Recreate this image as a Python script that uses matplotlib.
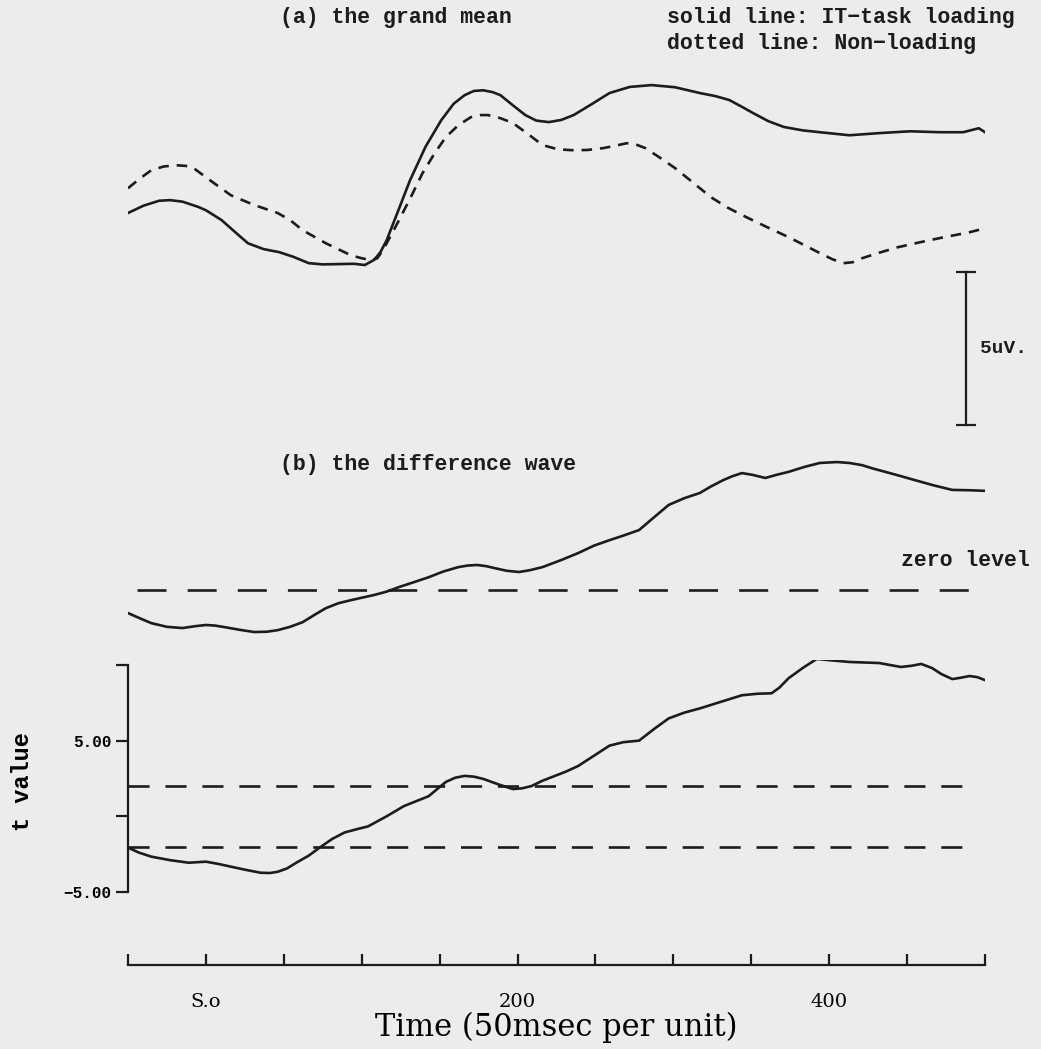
import matplotlib.pyplot as plt

# (a) grand mean, uV
solid_t = [-50, -40, -30, -23, -15, -5, 0, 10, 20, 27, 37, 47, 56, 66, 75, 85, 95, 102, 108,
           112, 116, 123, 131, 141, 151, 159, 166, 172, 178, 184, 189, 197, 205, 212, 220,
           228, 236, 248, 259, 272, 286, 301, 317, 327, 336, 344, 351, 361, 371, 383, 394,
           413, 432, 452, 471, 486, 496, 500]
solid_v = [-0.42, -0.18, -0.02, 0.0, -0.05, -0.22, -0.33, -0.65, -1.1, -1.41, -1.6, -1.70,
           -1.85, -2.06, -2.1, -2.09, -2.08, -2.12, -1.95, -1.7, -1.31, -0.4, 0.65, 1.75,
           2.61, 3.15, 3.43, 3.57, 3.59, 3.53, 3.43, 3.1, 2.78, 2.6, 2.55, 2.62, 2.78, 3.15,
           3.50, 3.70, 3.76, 3.69, 3.50, 3.40, 3.27, 3.05, 2.85, 2.58, 2.39, 2.28, 2.22,
           2.12, 2.19, 2.25, 2.22, 2.22, 2.35, 2.22]
dotted_t = [-50, -42, -35, -27, -19, -13, -8, 4, 16, 31, 46, 54, 62, 77, 93, 100, 106, 110,
            114, 124, 132, 139, 147, 154, 162, 170, 176, 181, 189, 197, 207, 216, 226, 236,
            245, 255, 263, 270, 276, 282, 291, 301, 312, 324, 335, 347, 360, 374, 384, 394,
            402, 409, 415, 421, 432, 444, 458, 471, 490, 500]
dotted_v = [0.39, 0.72, 0.98, 1.1, 1.14, 1.12, 1.05, 0.6, 0.16, -0.16, -0.42, -0.65, -0.98,
            -1.41, -1.80, -1.9, -1.96, -1.9, -1.6, -0.65, 0.15, 0.88, 1.55, 2.06, 2.45, 2.71,
            2.78, 2.78, 2.68, 2.52, 2.15, 1.80, 1.66, 1.63, 1.64, 1.70, 1.78, 1.86, 1.82,
            1.70, 1.40, 1.05, 0.6, 0.10, -0.25, -0.56, -0.88, -1.21, -1.47, -1.73, -1.93,
            -2.06, -2.03, -1.90, -1.72, -1.54, -1.38, -1.24, -1.05, -0.92]

# (b) difference wave, uV
diff_t = [-50, -42, -35, -25, -15, -7, 0, 6, 12, 22, 31, 39, 46, 54, 62, 70, 77, 85, 93, 100,
          108, 116, 124, 133, 143, 152, 162, 168, 174, 180, 185, 193, 201, 208, 216, 228, 239,
          249, 259, 268, 278, 287, 297, 307, 317, 324, 332, 338, 344, 351, 359, 366, 374, 384,
          394, 405, 413, 421, 428, 436, 446, 455, 467, 479, 490, 500]
diff_v = [-0.75, -0.93, -1.08, -1.2, -1.24, -1.18, -1.14, -1.16, -1.21, -1.3, -1.37, -1.36,
          -1.31, -1.2, -1.05, -0.8, -0.59, -0.43, -0.33, -0.25, -0.16, -0.05, 0.10, 0.25,
          0.42, 0.6, 0.75, 0.8, 0.82, 0.78, 0.72, 0.63, 0.59, 0.65, 0.75, 0.98, 1.21, 1.45,
          1.63, 1.78, 1.96, 2.35, 2.78, 3.0, 3.17, 3.38, 3.59, 3.72, 3.82, 3.76, 3.66, 3.76,
          3.86, 4.02, 4.15, 4.18, 4.15, 4.08, 3.97, 3.86, 3.72, 3.59, 3.42, 3.27, 3.26, 3.24]

# t values
tval_t = [-50, -43, -35, -23, -11, 0, 8, 16, 26, 35, 41, 46, 52, 58, 66, 73, 81, 89, 97, 104,
          116, 127, 135, 143, 149, 154, 160, 166, 172, 178, 188, 197, 203, 209, 216, 224, 231,
          239, 249, 259, 268, 278, 288, 297, 307, 317, 330, 344, 354, 363, 368, 374, 383, 392,
          402, 413, 432, 446, 453, 459, 466, 472, 479, 484, 490, 495, 500]
tval_v = [-2.07, -2.4, -2.67, -2.9, -3.07, -3.0, -3.15, -3.33, -3.55, -3.73, -3.75, -3.67,
          -3.45, -3.07, -2.6, -2.07, -1.5, -1.07, -0.85, -0.67, 0.0, 0.67, 1.0, 1.33, 1.85,
          2.27, 2.55, 2.67, 2.62, 2.47, 2.1, 1.8, 1.85, 2.0, 2.35, 2.67, 2.95, 3.33, 4.0,
          4.67, 4.9, 5.0, 5.8, 6.47, 6.85, 7.13, 7.55, 8.0, 8.1, 8.13, 8.5, 9.13, 9.8, 10.4,
          10.3, 10.2, 10.13, 9.87, 9.95, 10.07, 9.8, 9.4, 9.07, 9.15, 9.27, 9.2, 9.0]
t_crit = [2.0, -2.0]

xticks = list(range(-50, 501, 50))
xlabels = {0: 'S.o', 200: '200', 400: '400'}

W, H = 1041, 1049
ink = '#1c1c1c'
paper = '#ececec'
mono = 'Liberation Mono'
serif = 'DejaVu Serif'
lw = 1.9

fig = plt.figure(figsize=(W / 100, H / 100), dpi=100, facecolor=paper)


def add_ax(top, bottom):
    return fig.add_axes([128 / W, 1 - bottom / H, 857 / W, (bottom - top) / H])


def bare(ax):
    ax.set_facecolor('none')
    for s in ax.spines.values():
        s.set_visible(False)
    ax.set_xticks([])
    ax.set_yticks([])
    ax.set_xlim(-50, 500)


# panel (a)
ax_a = add_ax(60, 280)
bare(ax_a)
ax_a.set_ylim(-2.61, 4.58)
ax_a.plot(solid_t, solid_v, color=ink, lw=lw, solid_joinstyle='round')
ax_a.plot(dotted_t, dotted_v, color=ink, lw=lw, dashes=(4, 3))
# 5 uV scale bar
ax_a.plot([488, 488], [-2.35, -7.35], color=ink, lw=1.6, clip_on=False)
ax_a.plot([488, 488], [-2.35, -7.35], color=ink, ls='none', marker='_', ms=14,
          mew=1.6, clip_on=False)
ax_a.text(497, -4.85, '5uV.', fontsize=14, fontweight='bold', va='center', ha='left',
          color=ink, family=mono)

# panel (b)
ax_b = add_ax(440, 640)
bare(ax_b)
ax_b.set_ylim(-1.63, 4.90)
ax_b.plot(diff_t, diff_v, color=ink, lw=lw, solid_joinstyle='round')
ax_b.axhline(0, xmin=0.01, xmax=0.99, color=ink, lw=lw, dashes=(11, 8))

# t-value panel with time axis at the bottom
ax_t = add_ax(660, 965)
ax_t.set_facecolor('none')
ax_t.set_xlim(-50, 500)
ax_t.set_ylim(-9.83, 10.33)
for s in ['top', 'right']:
    ax_t.spines[s].set_visible(False)
ax_t.spines['left'].set_bounds(-5, 10)
for s in ['left', 'bottom']:
    ax_t.spines[s].set_color(ink)
    ax_t.spines[s].set_linewidth(1.6)
ax_t.set_yticks([-5, 0, 5, 10])
ax_t.set_yticklabels(['\u22125.00', '', '5.00', ''], fontsize=11.5, fontweight='bold',
                     family=mono)
ax_t.tick_params(axis='y', direction='out', length=9, width=1.6, color=ink, pad=3)
ax_t.set_xticks(xticks)
ax_t.set_xticklabels([xlabels.get(v, '') for v in xticks], fontsize=14, family=serif)
ax_t.tick_params(axis='x', direction='in', length=8, width=1.6, color=ink, pad=20)
ax_t.plot(tval_t, tval_v, color=ink, lw=lw, solid_joinstyle='round')
for c in t_crit:
    ax_t.axhline(c, xmin=0, xmax=0.99, color=ink, lw=lw, dashes=(8, 6))
ax_t.set_xlabel('Time (50msec per unit)', fontsize=22, family=serif, labelpad=1)
ax_t.set_ylabel('t value', fontsize=17, fontweight='bold', family=mono)
ax_t.yaxis.set_label_coords(-0.11, 0.6)

# titles and notes
txt = dict(fontsize=15.5, fontweight='bold', family=mono, color=ink, va='center')
fig.text(280 / W, 1 - 18 / H, '(a) the grand mean', ha='left', **txt)
fig.text(667 / W, 1 - 18 / H, 'solid line: IT\u2212task loading', ha='left', **txt)
fig.text(667 / W, 1 - 43 / H, 'dotted line: Non\u2212loading', ha='left', **txt)
fig.text(280 / W, 1 - 464 / H, '(b) the difference wave', ha='left', **txt)
fig.text(1030 / W, 1 - 560 / H, 'zero level', ha='right', **txt)

fig.savefig('out.png', dpi=100, facecolor=paper)
